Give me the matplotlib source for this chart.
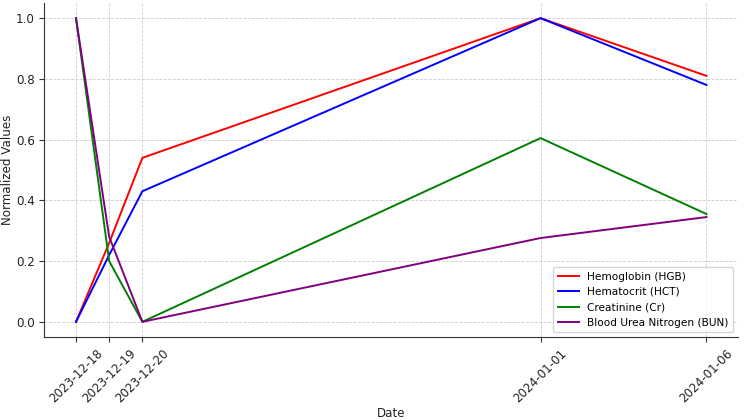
import matplotlib
matplotlib.use("Agg")
import matplotlib.pyplot as plt
import matplotlib.dates as mdates
import pandas as pd

dates = ["2023-12-18", "2023-12-19", "2023-12-20", "2024-01-01", "2024-01-06"]
hgb = [0.0, 0.26, 0.54, 1.0, 0.81]
hct = [0.0, 0.22, 0.43, 1.0, 0.78]
cr = [1.0, 0.20, 0.0, 0.605, 0.355]
bun = [1.0, 0.28, 0.0, 0.276, 0.345]

x = pd.to_datetime(dates)

fs = 8.6
fig = plt.figure(figsize=(7.5, 4.2), dpi=100)
ax = fig.add_axes([0.0593, 0.1976, 0.9247, 0.7953])
lw = 1.4
ax.plot(x, hgb, color="red", lw=lw, label="Hemoglobin (HGB)")
ax.plot(x, hct, color="blue", lw=lw, label="Hematocrit (HCT)")
ax.plot(x, cr, color="green", lw=lw, label="Creatinine (Cr)")
ax.plot(x, bun, color="purple", lw=lw, label="Blood Urea Nitrogen (BUN)")

ax.set_xticks(x)
ax.xaxis.set_major_formatter(mdates.DateFormatter("%Y-%m-%d"))
ax.tick_params(labelsize=fs, colors="#333333", labelcolor="#222222")
plt.setp(ax.get_xticklabels(), rotation=45, ha="center")
ax.set_xlabel("Date", fontsize=fs, color="#222222", labelpad=1)
ax.set_ylabel("Normalized Values", fontsize=fs, color="#222222", labelpad=1)
ax.grid(True, linestyle="--", color="#cccccc", linewidth=0.6)
for s in ["top", "right"]:
    ax.spines[s].set_visible(False)
for s in ["left", "bottom"]:
    ax.spines[s].set_color("#333333")
ax.legend(loc="lower right", fontsize=7.6)
fig.savefig("out.png", dpi=100)
